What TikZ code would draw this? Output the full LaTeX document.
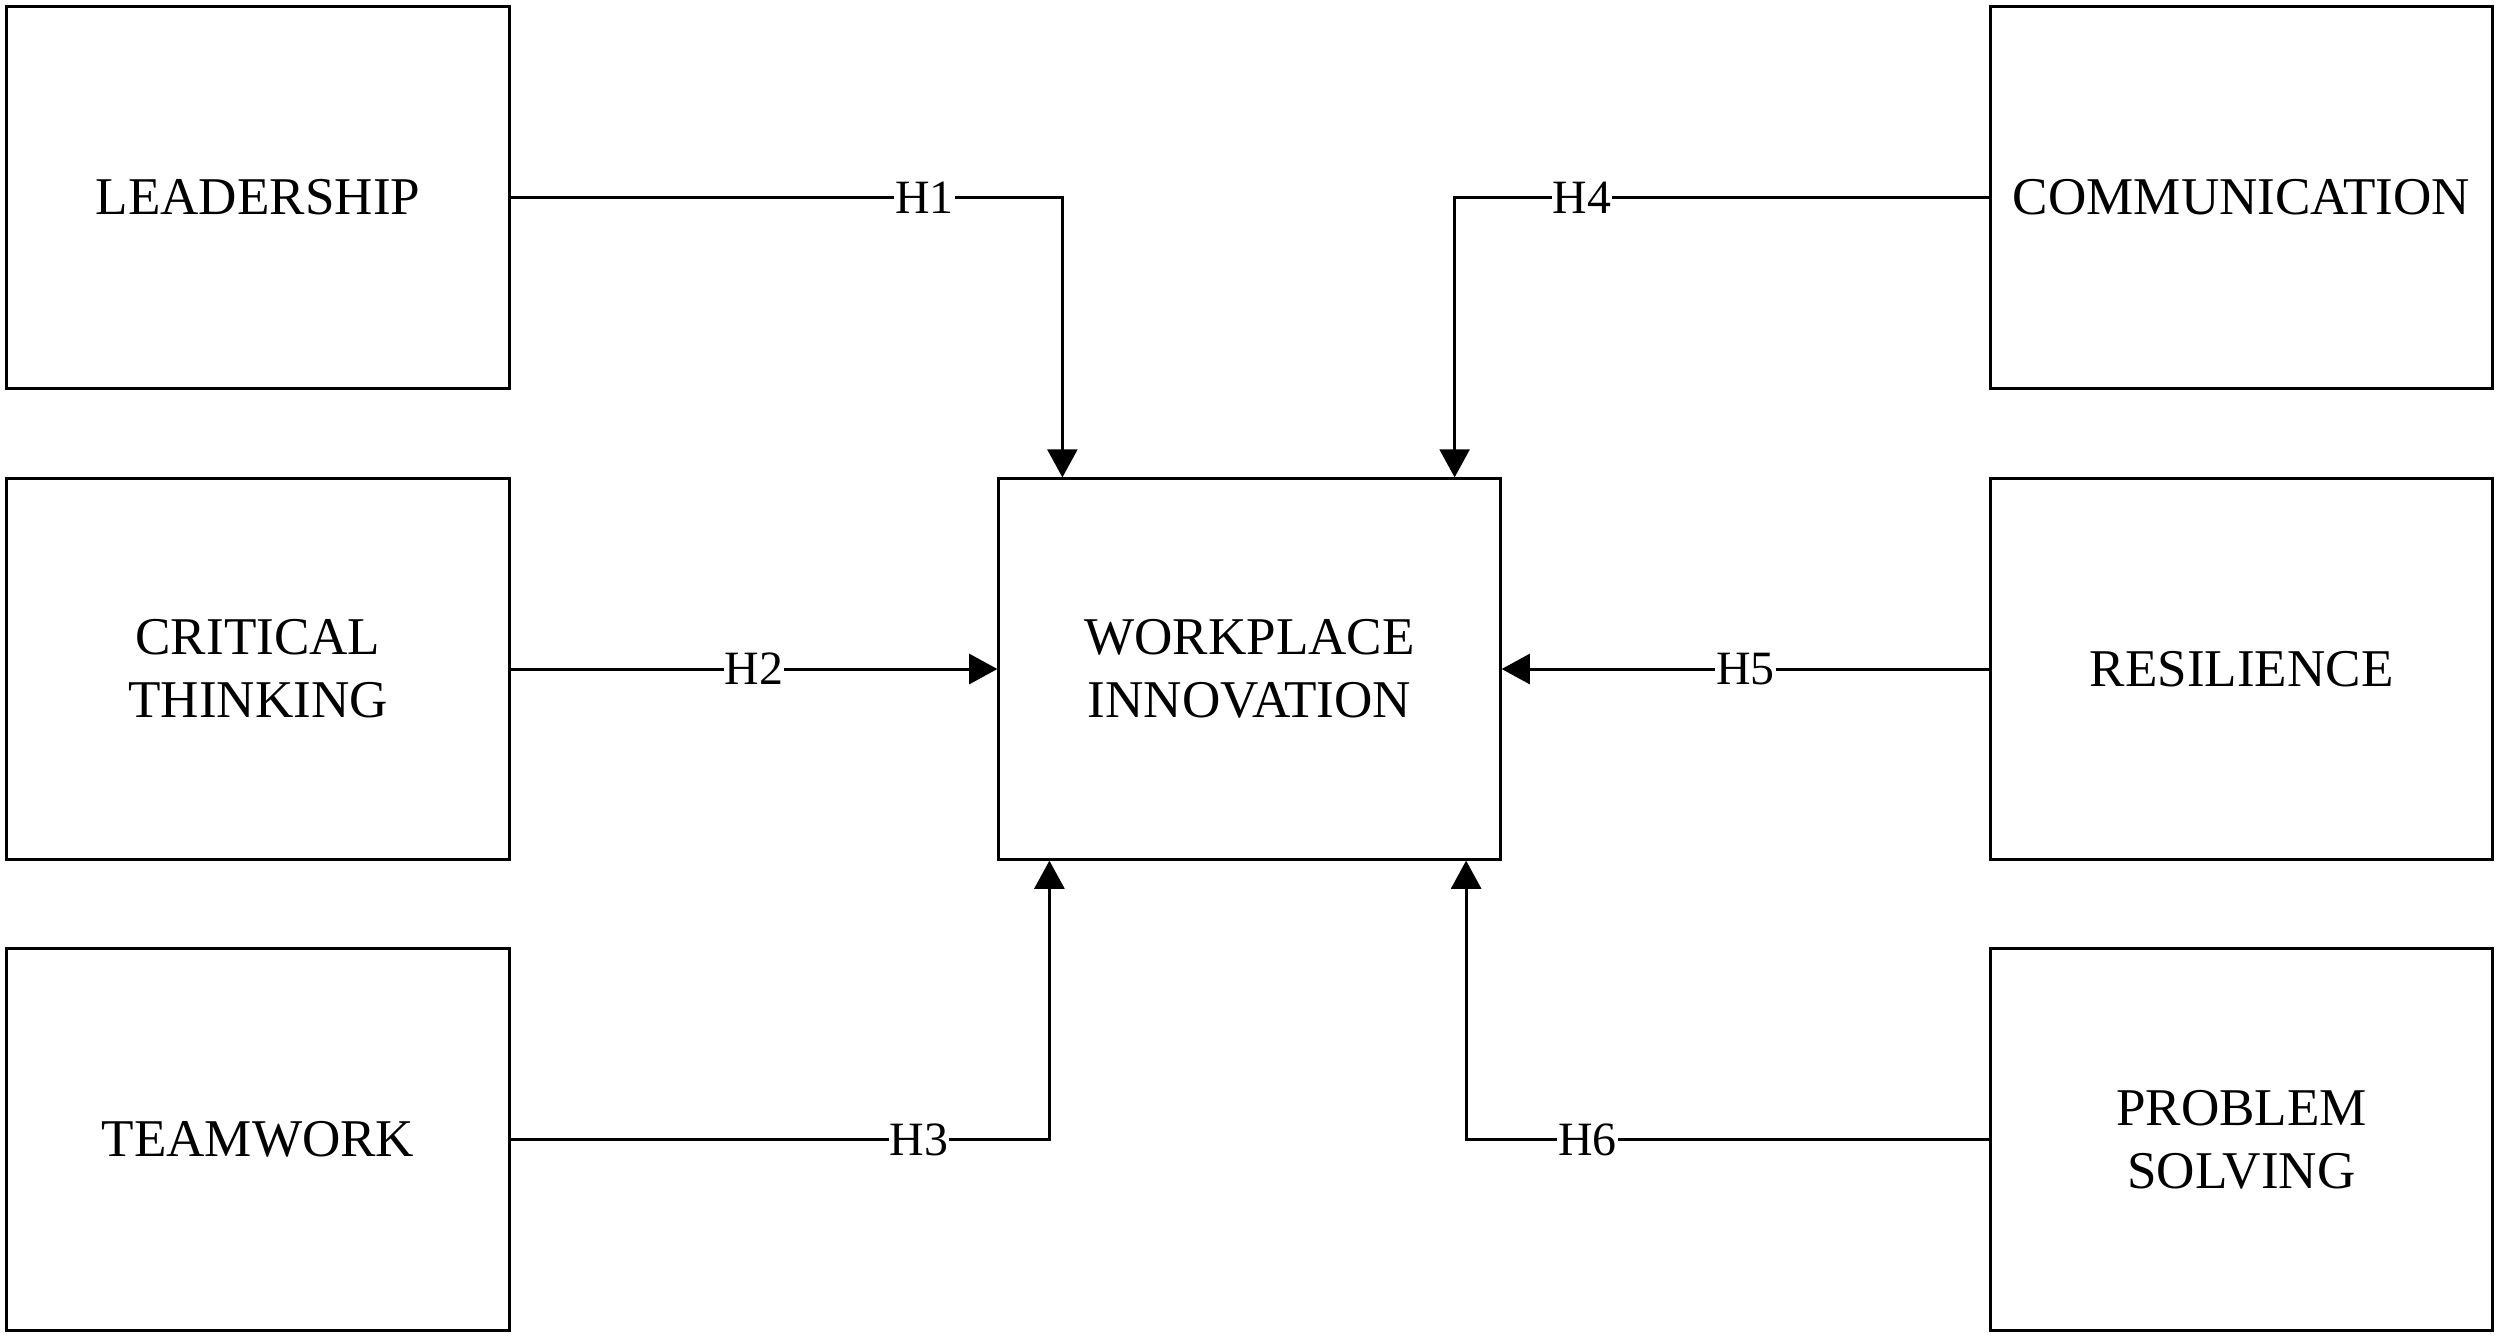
\documentclass[tikz,border=0pt]{standalone}
\usepackage{fontspec}
\setmainfont{Liberation Serif}
\usetikzlibrary{arrows.meta}
\begin{document}
\begin{tikzpicture}[x=0.01cm,y=-0.01cm,
  box/.style={draw=black,line width=0.85pt,minimum width=5.02cm,minimum height=3.81cm,align=center,inner sep=0pt,font=\fontsize{15.1}{17.9}\selectfont},
  conn/.style={draw=black,line width=0.85pt,-{Triangle[width=8.5pt,length=8pt]}},
  lab/.style={fill=white,inner xsep=0.3pt,inner ysep=1pt,font=\fontsize{13.6}{15}\selectfont}]
\useasboundingbox (0,0) rectangle (2500,1338);
\node[box] (L1) at (258,197.5) {LEADERSHIP};
\node[box] (L2) at (258,669) {CRITICAL\\THINKING};
\node[box] (L3) at (258,1139.5) {TEAMWORK};
\node[box,minimum width=5.01cm,minimum height=3.80cm] (C) at (1249.5,669) {WORKPLACE\\INNOVATION};
\node[box] (R1) at (2241.5,197.5) {COMMUNICATION};
\node[box] (R2) at (2241.5,669) {RESILIENCE};
\node[box] (R3) at (2241.5,1139.5) {PROBLEM\\SOLVING};
\draw[conn] (L1.east) -| node[lab,pos=0.375] {H1} ([xshift=0.65cm]C.north west);
\draw[conn] (L2.east) -- node[lab] {H2} (C.west);
\draw[conn] (L3.east) -| node[lab,pos=0.379] {H3} ([xshift=0.52cm]C.south west);
\draw[conn] (R1.west) -| node[lab,pos=0.381] {H4} ([xshift=-0.47cm]C.north east);
\draw[conn] (R2.west) -- node[lab] {H5} (C.east);
\draw[conn] (R3.west) -| node[lab,pos=0.384] {H6} ([xshift=-0.355cm]C.south east);
\end{tikzpicture}
\end{document}
